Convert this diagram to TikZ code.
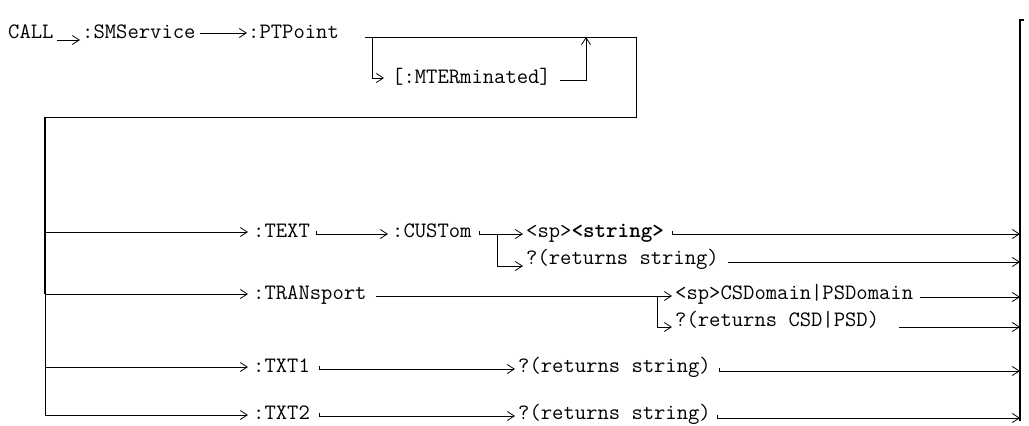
\documentclass[tikz,border=0pt]{standalone}
\usetikzlibrary{arrows.meta}
\begin{document}
\begin{tikzpicture}[x=1pt,y=-1pt,
  lbl/.style={inner sep=0pt, anchor=west, font=\ttfamily\fontsize{22}{26}\selectfont, text height=12pt, text depth=2pt},
  ln/.style={line width=0.8pt},
  arr/.style={ln, -{Straight Barb[length=7pt,width=9pt,line width=0.8pt]}},
  thickbar/.style={line width=1.8pt},
  rbar/.style={line width=1.4pt},
]
\useasboundingbox (0,0) rectangle (1029,426);

% ---- text nodes
\node[lbl] (call) at (8,33) {CALL};
\node[lbl] (sms) at (82,33) {:SMService};
\node[lbl] (ptp) at (248,33) {:PTPoint};
\node[lbl] (mter) at (392,78) {[:MTERminated]};
\node[lbl] (text) at (253,232) {:TEXT};
\node[lbl] (cust) at (392,232) {:CUSTom};
\node[lbl] (str) at (526,232) {<sp>\textbf{<string>}};
\node[lbl] (rs1) at (526,259) {?(returns string)};
\node[lbl] (tran) at (253,294) {:TRANsport};
\node[lbl] (csd) at (675,294) {<sp>CSDomain|PSDomain};
\node[lbl] (rcsd) at (675,321) {?(returns CSD|PSD)};
\node[lbl] (txt1) at (253,367) {:TXT1};
\node[lbl] (rs2) at (518,367) {?(returns string)};
\node[lbl] (txt2) at (253,414) {:TXT2};
\node[lbl] (rs3) at (518,414) {?(returns string)};

% ---- coordinates
\coordinate (a0) at (57,40);
\coordinate (b0) at (365,37);
\coordinate (b1) at (372,37);
\coordinate (b2) at (636,37);
\coordinate (b3) at (636,117);
\coordinate (b4) at (586,37);
\coordinate (L0) at (45,117);
\coordinate (L1) at (45,232);
\coordinate (L2) at (45,294);
\coordinate (L3) at (45,367);
\coordinate (L4) at (45,415);
\coordinate (j1) at (497,234);
\coordinate (j2) at (657,296);
\coordinate (R0) at (1020,20);
\coordinate (R1) at (1020,234);
\coordinate (R2) at (1020,262);
\coordinate (R3) at (1020,297);
\coordinate (R4) at (1020,327);
\coordinate (R5) at (1020,371);
\coordinate (R6) at (1020,418);

% ---- first line
\draw[arr,shorten >=2pt] (a0) -- (a0 -| sms.west);
\draw[arr,shorten <=4pt,shorten >=1pt] (sms.east) -- (ptp.west);

% ---- optional [:MTERminated] bracket
\draw[ln] (b0) -- (b2) -- (b3) -- (L0);
\draw[arr,shorten >=8pt] (b1) |- (mter.west);
\draw[arr] ([xshift=9pt,yshift=-2pt]mter.east) -| (b4);

% ---- left bar
\draw[thickbar] (L0) -- (L2);
\draw[ln] (L2) -- (L4);

% ---- branches from left bar
\draw[arr,shorten >=5pt] (L1) -- (text.west);
\draw[arr,shorten >=5pt] (L2) -- (tran.west);
\draw[arr,shorten >=5pt] (L3) -- (txt1.west);
\draw[arr,shorten >=5pt] (L4) -- (L4 -| txt2.west);

% ---- :TEXT row
\draw[arr,shorten >=4pt] ([xshift=6pt,yshift=1pt]text.east) -- ([xshift=6pt,yshift=-2pt]text.east) -- ([yshift=-2pt]cust.west);
\draw[arr,shorten >=3pt] ([xshift=8pt,yshift=1pt]cust.east) -- ([xshift=8pt,yshift=-2pt]cust.east) -- ([yshift=-2pt]str.west);
\draw[arr,shorten >=3pt] (j1) |- ([yshift=-7pt]rs1.west);
\draw[arr] ([xshift=8pt,yshift=1pt]str.east) -- ([xshift=8pt,yshift=-2pt]str.east) -- (R1);
\draw[arr] ([xshift=9pt]rs1.east |- R2) -- (R2);

% ---- :TRANsport row
\draw[arr,shorten >=3pt] ([xshift=9pt,yshift=-2pt]tran.east) -- ([yshift=-2pt]csd.west);
\draw[arr,shorten >=3pt] (j2) |- ([yshift=-6pt]rcsd.west);
\draw[arr] ([xshift=7pt]csd.east |- R3) -- (R3);
\draw[arr] ([xshift=20pt]rcsd.east |- R4) -- (R4);

% ---- :TXT1 row
\draw[arr,shorten >=3pt] ([xshift=9pt,yshift=1pt]txt1.east) -- ([xshift=9pt,yshift=-2pt]txt1.east) -- ([yshift=-2pt]rs2.west);
\draw[arr] ([xshift=8pt]rs2.east |- 0,368) -- ([xshift=8pt]rs2.east |- R5) -- (R5);

% ---- :TXT2 row
\draw[arr,shorten >=3pt] ([xshift=9pt,yshift=1pt]txt2.east) -- ([xshift=9pt,yshift=-2pt]txt2.east) -- ([yshift=-2pt]rs3.west);
\draw[arr] ([xshift=6pt]rs3.east |- 0,415) -- ([xshift=6pt]rs3.east |- R6) -- (R6);

% ---- right bar
\draw[rbar] ([xshift=4pt]R0) -- (R0) -- (1020,421);
\end{tikzpicture}
\end{document}
